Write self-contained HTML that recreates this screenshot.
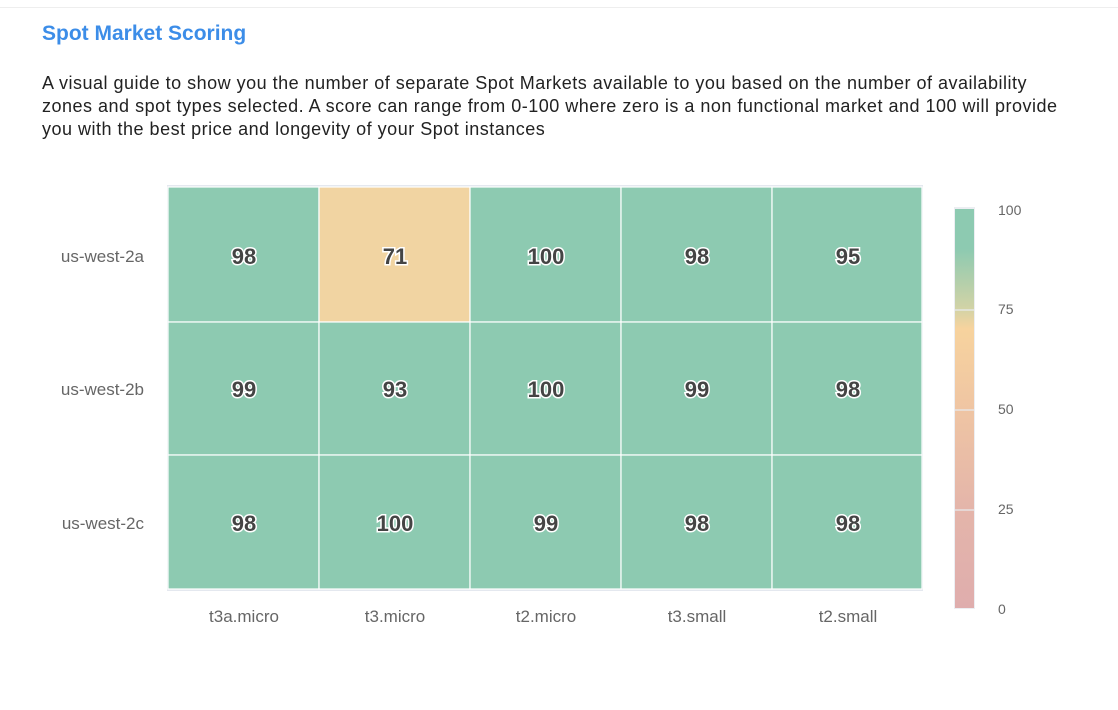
<!DOCTYPE html>
<html><head><style>
body{margin:0;width:1118px;height:710px;background:#fff;font-family:"Liberation Sans",sans-serif;position:relative;overflow:hidden}
.top{position:absolute;left:0;top:7px;width:1118px;border-top:1px solid #eee}
h1{position:absolute;left:42px;top:22px;margin:0;font-size:21px;font-weight:bold;color:#3c8de8}
p{position:absolute;left:42px;top:72px;margin:0;width:1035px;font-size:18px;letter-spacing:0.5px;line-height:23px;color:#222}
</style></head><body>
<div class="top"></div>
<h1>Spot Market Scoring</h1>
<p>A visual guide to show you the number of separate Spot Markets available to you based on the number of availability zones and spot types selected. A score can range from 0-100 where zero is a non functional market and 100 will provide you with the best price and longevity of your Spot instances</p>
<svg width="1118" height="710" style="position:absolute;left:0;top:0">
<defs><linearGradient id="g" x1="0" y1="0" x2="0" y2="1">
<stop offset="0" stop-color="#8dcab1"/><stop offset="0.1" stop-color="#8dcab1"/>
<stop offset="0.25" stop-color="#d2d3a6"/><stop offset="0.3" stop-color="#f7d39e"/>
<stop offset="0.5" stop-color="#efc5a3"/><stop offset="0.75" stop-color="#e4b5aa"/>
<stop offset="1" stop-color="#dfadad"/></linearGradient></defs>
<rect x="167" y="185" width="756" height="406" fill="#e4e8ef"/>
<g fill="#8dcab1" stroke="#fff" stroke-width="1.2">
<rect x="168" y="187" width="151" height="135"/><rect x="319" y="187" width="151" height="135" fill="#f1d4a2"/><rect x="470" y="187" width="151" height="135"/><rect x="621" y="187" width="151" height="135"/><rect x="772" y="187" width="150" height="135"/>
<rect x="168" y="322" width="151" height="133"/><rect x="319" y="322" width="151" height="133"/><rect x="470" y="322" width="151" height="133"/><rect x="621" y="322" width="151" height="133"/><rect x="772" y="322" width="150" height="133"/>
<rect x="168" y="455" width="151" height="134"/><rect x="319" y="455" width="151" height="134"/><rect x="470" y="455" width="151" height="134"/><rect x="621" y="455" width="151" height="134"/><rect x="772" y="455" width="150" height="134"/>
</g>
<g font-size="22" font-weight="bold" fill="#444" stroke="#fff" stroke-width="3" paint-order="stroke" text-anchor="middle">
<text x="244" y="264">98</text><text x="395" y="264">71</text><text x="546" y="264">100</text><text x="697" y="264">98</text><text x="848" y="264">95</text>
<text x="244" y="397">99</text><text x="395" y="397">93</text><text x="546" y="397">100</text><text x="697" y="397">99</text><text x="848" y="397">98</text>
<text x="244" y="531">98</text><text x="395" y="531">100</text><text x="546" y="531">99</text><text x="697" y="531">98</text><text x="848" y="531">98</text>
</g>
<g font-size="17" fill="#666" text-anchor="end">
<text x="144" y="262">us-west-2a</text><text x="144" y="395">us-west-2b</text><text x="144" y="529">us-west-2c</text>
</g>
<g font-size="17" fill="#666" text-anchor="middle">
<text x="244" y="622">t3a.micro</text><text x="395" y="622">t3.micro</text><text x="546" y="622">t2.micro</text><text x="697" y="622">t3.small</text><text x="848" y="622">t2.small</text>
</g>
<rect x="954" y="207" width="21" height="402" fill="#eceef2"/>
<rect x="955" y="209" width="19" height="399" fill="url(#g)"/>
<g stroke="#e8eaee" stroke-width="1.2"><line x1="955" x2="974" y1="310" y2="310"/><line x1="955" x2="974" y1="410" y2="410"/><line x1="955" x2="974" y1="510" y2="510"/></g>
<g font-size="14" fill="#666">
<text x="998" y="215">100</text><text x="998" y="314">75</text><text x="998" y="414">50</text><text x="998" y="514">25</text><text x="998" y="614">0</text>
</g>
</svg>
</body></html>
